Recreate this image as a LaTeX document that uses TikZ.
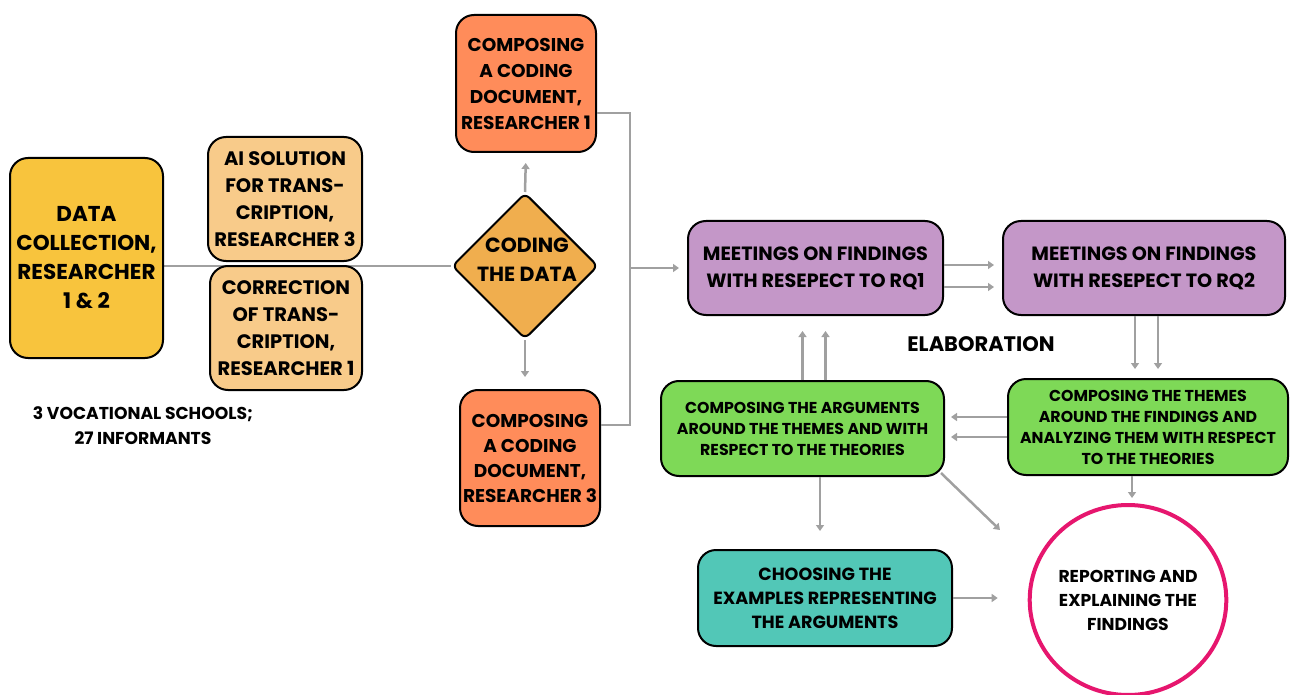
\documentclass[tikz,border=0pt]{standalone}
\usepackage{fontspec}
\setmainfont{Poppins}
\usetikzlibrary{shapes.geometric,arrows.meta,backgrounds,calc}
\definecolor{cyellow}{HTML}{F8C43D}
\definecolor{clight}{HTML}{F8CB8A}
\definecolor{cdiam}{HTML}{F0AE4E}
\definecolor{ccoral}{HTML}{FF8C5A}
\definecolor{cpurple}{HTML}{C497C8}
\definecolor{cgreen}{HTML}{7ED957}
\definecolor{cteal}{HTML}{52C7B7}
\definecolor{cmag}{HTML}{E6166E}
\definecolor{carrow}{HTML}{A0A0A0}
\begin{document}
\begin{tikzpicture}[x=1pt,y=-1pt,
  box/.style={draw=black, line width=2pt, rounded corners=18pt, align=center, inner sep=0pt, font=\bfseries},
  link/.style={draw=carrow, line width=2.5pt},
  arr/.style={link, -{Triangle[width=8pt,length=6pt]}}]
\useasboundingbox (0,0) rectangle (1290,695);
% nodes
\node[box, font=\bfseries\fontsize{21.5}{29}\selectfont, fill=cyellow, minimum width=153pt, minimum height=200pt] (data) at (86.5,258) {DATA\\COLLECTION,\\RESEARCHER\\1 \& 2};
\node[box, font=\bfseries\fontsize{19.5}{27}\selectfont, fill=clight, minimum width=154pt, minimum height=124pt] (ai) at (285,199) {AI SOLUTION\\FOR TRANS-\\CRIPTION,\\RESEARCHER 3};
\node[box, font=\bfseries\fontsize{19.5}{27}\selectfont, fill=clight, minimum width=152pt, minimum height=124pt] (corr) at (286,328) {CORRECTION\\OF TRANS-\\CRIPTION,\\RESEARCHER 1};
\node[diamond, draw=black, line width=2pt, rounded corners=6pt, fill=cdiam, minimum width=146pt, minimum height=146pt, inner sep=0pt,
  label={[font=\bfseries\fontsize{20.5}{29}\selectfont, align=center, inner sep=0pt, xshift=2pt, yshift=6.5pt]center:{CODING\\THE DATA}}] (dia) at (525,266) {};
\node[box, font=\bfseries\fontsize{18.5}{26}\selectfont, fill=ccoral, minimum width=140pt, minimum height=137pt] (c1) at (526,83.5) {COMPOSING\\A CODING\\DOCUMENT,\\RESEARCHER 1};
\node[box, font=\bfseries\fontsize{18.5}{25}\selectfont, fill=ccoral, minimum width=140pt, minimum height=136pt] (c3) at (530,458) {COMPOSING\\A CODING\\DOCUMENT,\\RESEARCHER 3};
\node[box, font=\bfseries\fontsize{19.2}{27}\selectfont, fill=cpurple, minimum width=255pt, minimum height=94pt] (rq1) at (815.5,268) {MEETINGS ON FINDINGS\\WITH RESEPECT TO RQ1};
\node[box, font=\bfseries\fontsize{19.2}{27}\selectfont, fill=cpurple, minimum width=282pt, minimum height=94pt] (rq2) at (1144,268) {MEETINGS ON FINDINGS\\WITH RESEPECT TO RQ2};
\node[box, font=\bfseries\fontsize{15.8}{21}\selectfont, fill=cgreen, minimum width=280pt, minimum height=96pt] (them) at (1148,427) {COMPOSING THE THEMES\\AROUND THE FINDINGS AND\\ANALYZING THEM WITH RESPECT\\TO THE THEORIES};
\node[box, font=\bfseries\fontsize{15.8}{21}\selectfont, fill=cgreen, minimum width=283pt, minimum height=95pt] (args) at (802.5,428.5) {COMPOSING THE ARGUMENTS\\AROUND THE THEMES AND WITH\\RESPECT TO THE THEORIES};
\node[box, font=\bfseries\fontsize{17.6}{24}\selectfont, fill=cteal, minimum width=254pt, minimum height=96pt] (choose) at (825,598) {CHOOSING THE\\EXAMPLES REPRESENTING\\THE ARGUMENTS};
\node[ellipse, draw=cmag, line width=4pt, fill=white, minimum width=196pt, minimum height=190pt, inner sep=0pt, align=center, font=\bfseries\fontsize{17.2}{24}\selectfont] (rep) at (1128,600) {REPORTING AND\\EXPLAINING THE\\FINDINGS};
\node[font=\bfseries\fontsize{21}{24}\selectfont] (elab) at (981,344) {ELABORATION};
\node[align=center, font=\bfseries\fontsize{17.2}{25}\selectfont] (voc) at (143,426) {3 VOCATIONAL SCHOOLS;\\27 INFORMANTS};
% connectors
\begin{scope}[on background layer]
\draw[link] (data.east |- dia.west) -- (dia.west);
\end{scope}
\draw[arr, shorten >=10pt] (dia.north) -- (c1.south);
\draw[arr, shorten >=12pt] (dia.south) -- ([xshift=-5pt]c3.north);
\coordinate (j1) at (630,113);
\coordinate (j3) at (630,425);
\coordinate (jm) at (630,268);
\draw[link] (c1.east |- j1) -- (j1) -- (j3) -- (c3.east |- j3);
\draw[arr, shorten >=8pt] (jm) -- (rq1.west);
\draw[arr, shorten >=8pt] ([yshift=3pt]rq1.east) -- ([yshift=3pt]rq2.west);
\draw[arr, shorten >=8pt] ([yshift=-19pt]rq1.east) -- ([yshift=-19pt]rq2.west);
\draw[arr, shorten >=9pt] ([xshift=-9pt]rq2.south) -- ([xshift=-9pt]rq2.south |- them.north);
\draw[arr, shorten >=9pt] ([xshift=14pt]rq2.south) -- ([xshift=14pt]rq2.south |- them.north);
\draw[arr, shorten >=6pt] ([yshift=10pt]them.west) -- ([yshift=10pt]them.west -| args.east);
\draw[arr, shorten >=6pt] ([yshift=-10pt]them.west) -- ([yshift=-10pt]them.west -| args.east);
\draw[arr, shorten >=15pt] (args.north) -- (args.north |- rq1.south);
\draw[arr, shorten >=15pt] ([xshift=23pt]args.north) -- ([xshift=23pt]args.north |- rq1.south);
\draw[arr, shorten >=18pt] ([xshift=17.5pt]args.south) -- ([xshift=17.5pt]args.south |- choose.north);
\coordinate (dg) at (1000,530);
\draw[arr] ([shift={(-4pt,4pt)}]args.south east) -- (dg);
\draw[arr, shorten >=5pt] ([xshift=-16pt]them.south) -- ([xshift=-16pt]them.south |- rep.north);
\draw[arr, shorten >=30pt] (choose.east) -- (choose.east -| rep.west);
\end{tikzpicture}
\end{document}
